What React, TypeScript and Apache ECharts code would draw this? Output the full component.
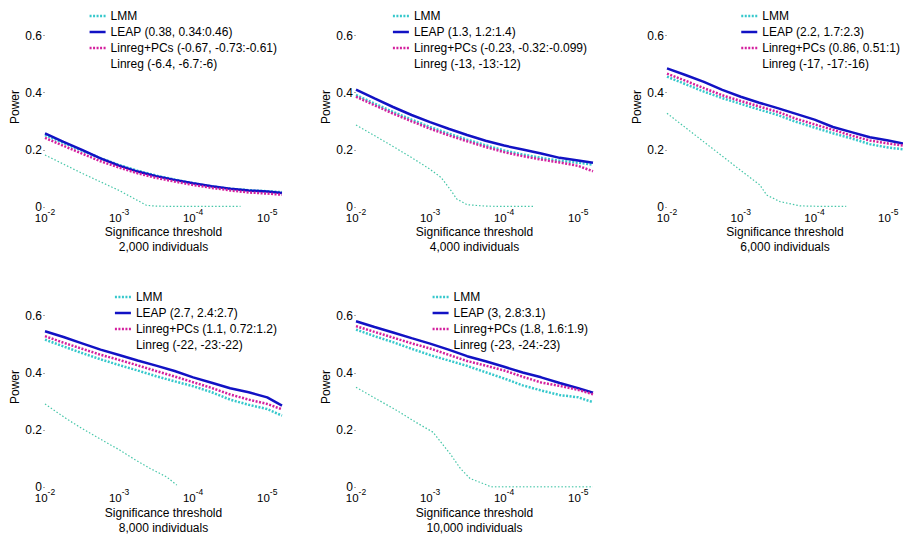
import React, { useEffect, useRef } from 'react';
import * as echarts from 'echarts';

// Significance threshold as -log10(p): 2 -> 1e-2, 5 -> 1e-5
const thresholdExp = [2.0, 2.25, 2.5, 2.75, 3.0, 3.25, 3.5, 3.75, 4.0, 4.25, 4.5, 4.75, 5.0, 5.2];
const xTicks = [2, 3, 4, 5];
const yTicks = [0, 0.2, 0.4, 0.6];
const sampleSizes = ['2,000', '4,000', '6,000', '8,000', '10,000'];

const leapLabels = ['LEAP (0.38, 0.34:0.46)', 'LEAP (1.3, 1.2:1.4)', 'LEAP (2.2, 1.7:2.3)', 'LEAP (2.7, 2.4:2.7)', 'LEAP (3, 2.8:3.1)'];
const pcsLabels = ['Linreg+PCs (-0.67, -0.73:-0.61)', 'Linreg+PCs (-0.23, -0.32:-0.099)', 'Linreg+PCs (0.86, 0.51:1)', 'Linreg+PCs (1.1, 0.72:1.2)', 'Linreg+PCs (1.8, 1.6:1.9)'];
const linregLabels = ['Linreg (-6.4, -6.7:-6)', 'Linreg (-13, -13:-12)', 'Linreg (-17, -17:-16)', 'Linreg (-22, -23:-22)', 'Linreg (-23, -24:-23)'];

// Power on thresholdExp, per sample size
const lmm2k = [0.252, 0.224, 0.197, 0.171, 0.147, 0.127, 0.110, 0.096, 0.083, 0.072, 0.064, 0.059, 0.055, 0.052];
const leap2k = [0.258, 0.228, 0.200, 0.170, 0.145, 0.124, 0.108, 0.095, 0.083, 0.073, 0.064, 0.058, 0.054, 0.049];
const pcs2k = [0.242, 0.214, 0.187, 0.160, 0.138, 0.118, 0.102, 0.089, 0.077, 0.067, 0.058, 0.051, 0.047, 0.043];

const lmm4k = [0.392, 0.362, 0.333, 0.306, 0.280, 0.257, 0.236, 0.216, 0.198, 0.184, 0.172, 0.162, 0.155, 0.148];
const leap4k = [0.411, 0.380, 0.350, 0.322, 0.297, 0.274, 0.252, 0.232, 0.215, 0.201, 0.187, 0.172, 0.163, 0.155];
const pcs4k = [0.386, 0.356, 0.327, 0.300, 0.274, 0.251, 0.230, 0.210, 0.192, 0.178, 0.166, 0.156, 0.144, 0.125];

const lmm6k = [0.456, 0.430, 0.404, 0.381, 0.361, 0.341, 0.322, 0.298, 0.278, 0.258, 0.240, 0.220, 0.208, 0.202];
const leap6k = [0.485, 0.462, 0.438, 0.410, 0.386, 0.365, 0.346, 0.326, 0.306, 0.280, 0.262, 0.244, 0.233, 0.222];
const pcs6k = [0.467, 0.442, 0.416, 0.391, 0.371, 0.352, 0.333, 0.309, 0.289, 0.270, 0.250, 0.233, 0.222, 0.215];

const lmm8k = [0.516, 0.492, 0.469, 0.447, 0.427, 0.408, 0.388, 0.370, 0.353, 0.332, 0.306, 0.288, 0.273, 0.250];
const leap8k = [0.545, 0.525, 0.503, 0.481, 0.462, 0.443, 0.425, 0.406, 0.384, 0.365, 0.346, 0.332, 0.314, 0.285];
const pcs8k = [0.528, 0.505, 0.484, 0.463, 0.445, 0.426, 0.406, 0.387, 0.367, 0.347, 0.324, 0.306, 0.291, 0.272];

const lmm10k = [0.551, 0.528, 0.507, 0.484, 0.462, 0.443, 0.424, 0.402, 0.380, 0.356, 0.338, 0.322, 0.314, 0.297];
const leap10k = [0.580, 0.560, 0.541, 0.521, 0.502, 0.481, 0.458, 0.440, 0.421, 0.401, 0.384, 0.364, 0.346, 0.330];
const pcs10k = [0.563, 0.543, 0.523, 0.503, 0.485, 0.463, 0.441, 0.425, 0.408, 0.386, 0.366, 0.354, 0.340, 0.325];

// Plain linear regression drops to zero early, so it has its own threshold points
const linregExp2k = [2.0, 2.25, 2.5, 2.75, 3.0, 3.2, 3.37, 3.5, 3.75, 4.0, 4.25, 4.64];
const linregPow2k = [0.182, 0.150, 0.118, 0.088, 0.058, 0.030, 0.006, 0.003, 0.002, 0.002, 0.002, 0.002];
const linregExp4k = [2.0, 2.25, 2.5, 2.75, 3.0, 3.15, 3.29, 3.36, 3.5, 3.75, 4.0, 4.39];
const linregPow4k = [0.287, 0.250, 0.212, 0.173, 0.132, 0.103, 0.055, 0.028, 0.008, 0.003, 0.002, 0.002];
const linregExp6k = [2.0, 2.25, 2.5, 2.75, 3.0, 3.26, 3.35, 3.53, 3.8, 4.1, 4.43];
const linregPow6k = [0.328, 0.278, 0.228, 0.178, 0.128, 0.077, 0.042, 0.019, 0.004, 0.002, 0.002];
const linregExp8k = [2.0, 2.29, 2.5, 2.74, 3.0, 3.19, 3.42, 3.64, 3.78];
const linregPow8k = [0.291, 0.239, 0.205, 0.169, 0.131, 0.100, 0.065, 0.036, 0.007];
const linregExp10k = [2.0, 2.3, 2.59, 2.8, 3.04, 3.27, 3.41, 3.54, 3.77, 3.82, 4.2, 4.6, 5.0, 5.2];
const linregPow10k = [0.349, 0.305, 0.262, 0.228, 0.192, 0.117, 0.065, 0.030, 0.007, 0.001, 0.001, 0.001, 0.001, 0.001];

const lmmSets = [lmm2k, lmm4k, lmm6k, lmm8k, lmm10k];
const leapSets = [leap2k, leap4k, leap6k, leap8k, leap10k];
const pcsSets = [pcs2k, pcs4k, pcs6k, pcs8k, pcs10k];
const linregExpSets = [linregExp2k, linregExp4k, linregExp6k, linregExp8k, linregExp10k];
const linregPowSets = [linregPow2k, linregPow4k, linregPow6k, linregPow8k, linregPow10k];

const FONT = '"Liberation Sans", Arial, Helvetica, sans-serif';
const C_LMM = '#36c8cc';
const C_LEAP = '#1212c4';
const C_PCS = '#d4209e';
const C_LINREG = '#45c6a8';

// Panel frames (pixels)
const frames = [
  { left: 45, top: 7, height: 200, legendRight: 626, legendTop: 9 },
  { left: 356, top: 7, height: 200, legendRight: 316, legendTop: 9 },
  { left: 667, top: 7, height: 200, legendRight: 3, legendTop: 9 },
  { left: 45, top: 287, height: 202, legendRight: 626, legendTop: 290 },
  { left: 356, top: 287, height: 202, legendRight: 315, legendTop: 290 },
];

const zip = (xs: number[], ys: number[]) => xs.map((x, i) => [x, ys[i]]);

function buildOption() {
  const grid: any[] = [];
  const xAxis: any[] = [];
  const yAxis: any[] = [];
  const legend: any[] = [];
  const series: any[] = [];

  frames.forEach((f, i) => {
    grid.push({ left: f.left, top: f.top, width: 237, height: f.height, containLabel: false });
    xAxis.push({
      type: 'value',
      gridIndex: i,
      min: 2,
      max: 5.2,
      interval: 1,
      axisLine: { show: false },
      axisTick: { show: false },
      splitLine: { show: false },
      axisLabel: {
        customValues: xTicks,
        margin: 0,
        formatter: (v: number) => (xTicks.includes(v) ? `{b|10}{s|-${v}}` : ''),
        rich: {
          b: { fontSize: 11.5, fontFamily: FONT, color: '#000', lineHeight: 17, verticalAlign: 'bottom' },
          s: { fontSize: 8.5, fontFamily: FONT, color: '#000', lineHeight: 9, verticalAlign: 'top' },
        },
      },
      name: `Significance threshold\n${sampleSizes[i]} individuals`,
      nameLocation: 'middle',
      nameGap: 17,
      nameTextStyle: { fontSize: 12, fontFamily: FONT, color: '#000', lineHeight: 15 },
    });
    yAxis.push({
      type: 'value',
      gridIndex: i,
      min: 0,
      max: 0.7,
      interval: 0.2,
      axisLine: { show: false },
      splitLine: { show: false },
      axisTick: { show: true, customValues: yTicks, length: 2, lineStyle: { color: '#aaa', width: 1 } },
      axisLabel: {
        customValues: yTicks,
        margin: 3,
        fontSize: 12,
        fontFamily: FONT,
        color: '#000',
        formatter: (v: number) => (yTicks.some((t) => Math.abs(t - v) < 1e-9) ? (v === 0 ? '0' : v.toFixed(1)) : ''),
      },
      name: 'Power',
      nameLocation: 'middle',
      nameGap: 21,
      nameTextStyle: { fontSize: 12, fontFamily: FONT, color: '#000' },
    });
    legend.push({
      orient: 'vertical',
      right: f.legendRight,
      top: f.legendTop,
      padding: 0,
      align: 'left',
      itemWidth: 16,
      itemHeight: 14,
      itemGap: 2,
      selectedMode: false,
      textStyle: { fontSize: 12, fontFamily: FONT, color: '#000', lineHeight: 14 },
      // legend keys are line samples only, no marker in the middle
      itemStyle: { opacity: 0 },
      lineStyle: { width: 2.5 },
      data: [
        { name: 'LMM' },
        { name: leapLabels[i] },
        { name: pcsLabels[i] },
        { name: linregLabels[i], lineStyle: { opacity: 0 }, itemStyle: { opacity: 0 } },
      ],
    });

    const base = { type: 'line', xAxisIndex: i, yAxisIndex: i, symbol: 'none', showSymbol: false, silent: true };
    series.push({
      ...base,
      name: 'LMM',
      data: zip(thresholdExp, lmmSets[i]),
      itemStyle: { color: C_LMM },
      lineStyle: { color: C_LMM, width: 2.5, type: [2, 1.5] },
      z: 2,
    });
    series.push({
      ...base,
      name: leapLabels[i],
      data: zip(thresholdExp, leapSets[i]),
      itemStyle: { color: C_LEAP },
      lineStyle: { color: C_LEAP, width: 2.5, type: 'solid' },
      z: 3,
    });
    series.push({
      ...base,
      name: pcsLabels[i],
      data: zip(thresholdExp, pcsSets[i]),
      itemStyle: { color: C_PCS },
      lineStyle: { color: C_PCS, width: 2.5, type: [2, 1.5] },
      z: 4,
    });
    series.push({
      ...base,
      name: linregLabels[i],
      data: zip(linregExpSets[i], linregPowSets[i]),
      itemStyle: { color: C_LINREG },
      lineStyle: { color: C_LINREG, width: 1.2, type: [1.5, 2] },
      z: 1,
    });
  });

  return {
    animation: false,
    backgroundColor: '#fff',
    textStyle: { fontFamily: FONT },
    grid,
    xAxis,
    yAxis,
    legend,
    series,
  };
}

export default function App() {
  const ref = useRef<HTMLDivElement>(null);
  useEffect(() => {
    if (!ref.current) return;
    const chart = echarts.init(ref.current, undefined, { renderer: 'svg' });
    chart.setOption(buildOption() as any);
    return () => chart.dispose();
  }, []);
  return (
    <div
      ref={ref}
      style={{ position: 'fixed', left: 0, top: 0, width: 903, height: 536, background: '#fff' }}
    />
  );
}
